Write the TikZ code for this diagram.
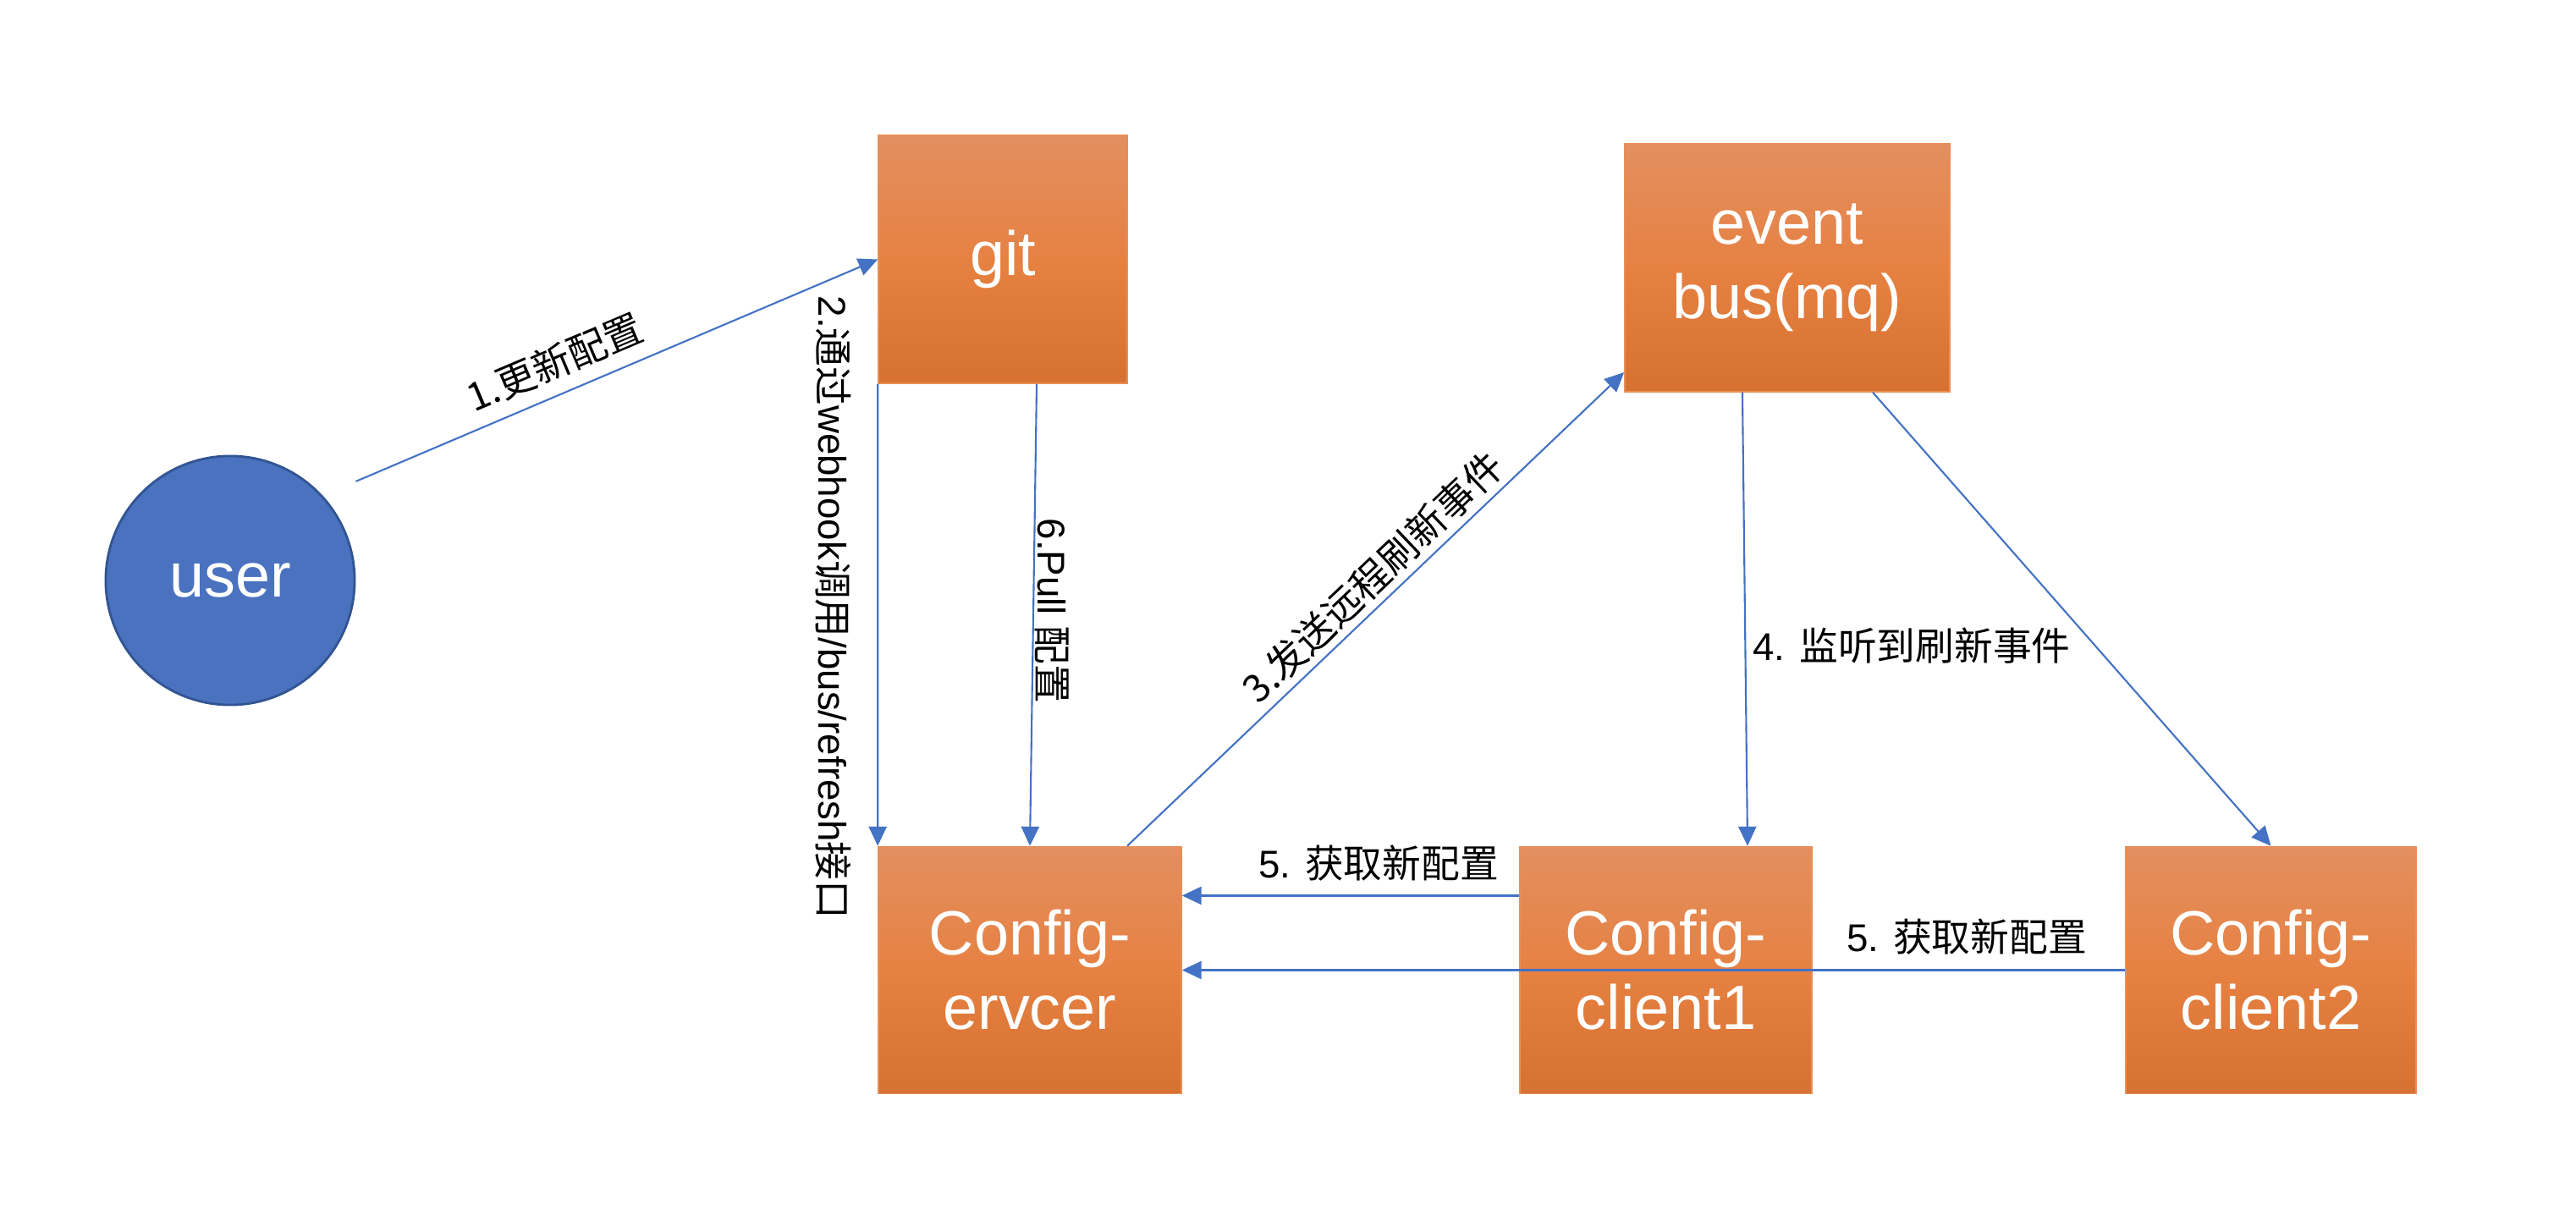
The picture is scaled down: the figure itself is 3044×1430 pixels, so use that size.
\documentclass[tikz,border=0pt]{standalone}
\usepackage{fontspec}
\setmainfont{Liberation Sans}
\newfontfamily\cjk{Noto Sans CJK SC}
\usetikzlibrary{arrows.meta,positioning}
\newcommand{\zh}[1]{{\cjk #1}}
\definecolor{boxtop}{RGB}{227,143,96}
\definecolor{boxmid}{RGB}{230,129,66}
\definecolor{boxbot}{RGB}{214,113,50}
\definecolor{userfill}{RGB}{74,114,191}
\definecolor{userline}{RGB}{50,84,146}
\definecolor{arrowblue}{RGB}{68,114,196}
\tikzset{
  orangebox/.style={rectangle, inner sep=0pt, top color=boxtop, bottom color=boxbot, middle color=boxmid,
    draw=boxmid!90!white, line width=0.4pt, text=white, align=center,
    font=\fontsize{21}{25}\selectfont},
  usernode/.style={circle, inner sep=0pt, minimum size=2.94cm, fill=userfill, draw=userline, line width=0.8pt,
    text=white, font=\fontsize{21}{25}\selectfont},
  arr/.style={draw=arrowblue, line width=0.6pt, -{Triangle[length=6.5pt,width=6pt]}, arrowblue},
  lbl/.style={text=black, inner sep=0pt, font=\fontsize{13}{15}\selectfont}
}
\begin{document}
\begin{tikzpicture}[x=0.01cm,y=-0.01cm]
\useasboundingbox (0,0) rectangle (3044,1430);
\fill[white] (0,0) rectangle (3044,1430);

% nodes
\node[usernode] (user) at (272,686) {user};
\node[orangebox, minimum width=2.94cm, minimum height=2.93cm] (git) at (1185,306.5) {git};
\node[orangebox, minimum width=3.84cm, minimum height=2.93cm] (event) at (2112,316.5) {event\\bus(mq)};
\node[orangebox, minimum width=3.58cm, minimum height=2.92cm] (server) at (1217,1146.5) {Config-\\ervcer};
\node[orangebox, minimum width=3.45cm, minimum height=2.92cm] (client1) at (1968.5,1146.5) {Config-\\client1};
\node[orangebox, minimum width=3.43cm, minimum height=2.92cm] (client2) at (2683.5,1146.5) {Config-\\client2};

% connectors
\draw[arr] ([yshift=1.17cm]user.east) -- (git.west);
\draw[arr] (git.south west) -- (server.north west);
\draw[arr] ([xshift=0.4cm]git.south) -- (server.north);
\draw[arr] ([xshift=1.15cm]server.north) -- ([yshift=-1.235cm]event.west);
\draw[arr] ([xshift=-0.53cm]event.south) -- ([xshift=0.965cm]client1.north);
\draw[arr] ([xshift=1.01cm]event.south) -- (client2.north);
\draw[arr] ([yshift=0.88cm]client1.west) -- ([yshift=0.88cm]server.east);
\draw[arr] (client2.west) -- (server.east);

% labels
\node[lbl, rotate=23] (l1) at (655,428) {\cjk 1.更新配置};
\node[lbl, rotate=-90] (l2) at (985,718) {2.\zh{通过}webhook\zh{调用}/bus/refresh\zh{接口}};
\node[lbl, rotate=-90] (l6) at (1243,722) {6.Pull \zh{配置}};
\node[lbl, rotate=43.6] (l3) at (1622,682) {\cjk 3.发送远程刷新事件};
\node[lbl] (l4) at (2259,763) {4. \zh{监听到刷新事件}};
\node[lbl] (l5a) at (1629,1020) {5. \zh{获取新配置}};
\node[lbl] (l5b) at (2324,1107) {5. \zh{获取新配置}};
\end{tikzpicture}
\end{document}
